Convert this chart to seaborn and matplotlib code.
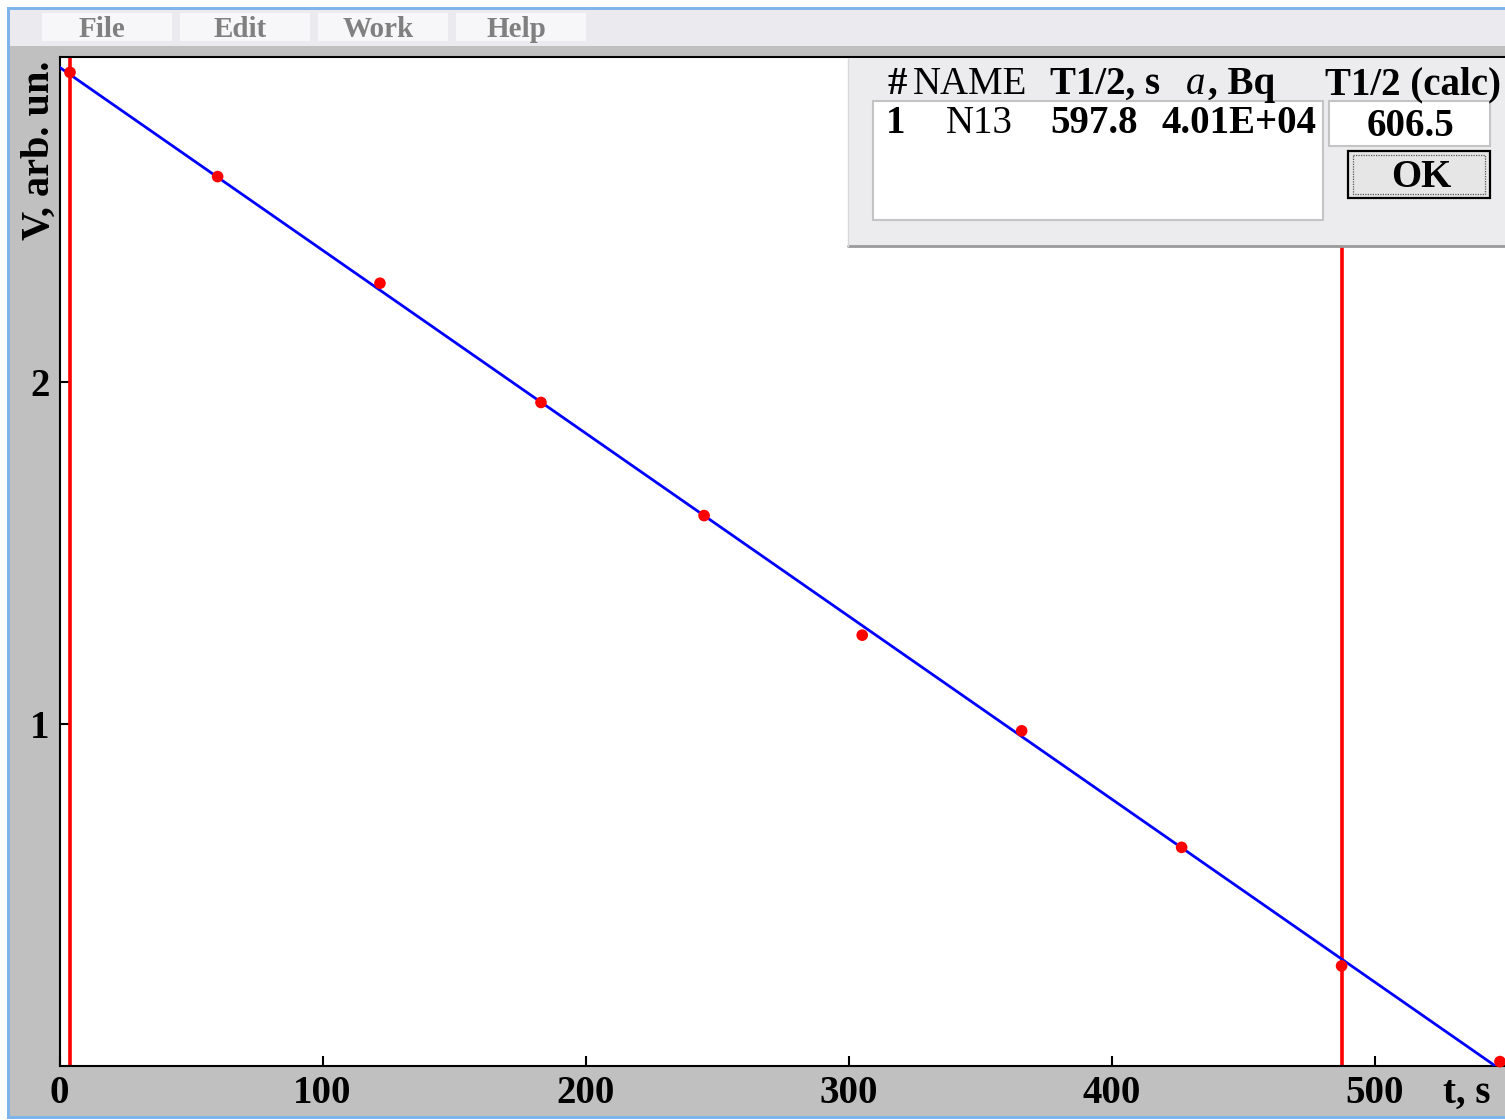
import matplotlib
matplotlib.use("Agg")
import matplotlib.pyplot as plt
from matplotlib.patches import Rectangle
import seaborn as sns
import pandas as pd

# measured decay points
t_s = [4.0, 60.1, 121.8, 183.0, 245.0, 305.1, 365.7, 426.5, 487.3, 547.5]
v_arb = [2.907, 2.602, 2.290, 1.941, 1.610, 1.260, 0.980, 0.639, 0.292, 0.012]

# straight-line fit endpoints
fit_t = [0.0, 545.6]
fit_v = [2.922, 0.0]

# cursor positions
cursor_t = [4.0, 487.3]

x_ticks = [0, 100, 200, 300, 400, 500]
y_ticks = [1, 2]

menu_items = ["File", "Edit", "Work", "Help"]

table_header = ["#", "NAME", "T1/2, s", "a", ", Bq", "T1/2 (calc)"]
table_row = ["1", "N13", "597.8", "4.01E+04"]
calc_value = "606.5"

W, H = 1505, 1120
sns.set_theme(style="white")
plt.rcParams["font.family"] = ["Liberation Serif", "DejaVu Serif"]

fig = plt.figure(figsize=(W / 100, H / 100), dpi=100, facecolor="#c0c0c0")

# plot area in pixel terms
x0_px, x1_px = 59.5, 1505.0
y_top_px, y_bot_px = 57.3, 1065.7
px_per_s = 2.631
px_per_v = 341.7

ax = fig.add_axes([x0_px / W, 1 - y_bot_px / H, (x1_px - x0_px) / W, (y_bot_px - y_top_px) / H])
ax.set_facecolor("white")
ax.set_xlim(0, (x1_px - x0_px) / px_per_s)
ax.set_ylim(0, (y_bot_px - y_top_px) / px_per_v)

df_pts = pd.DataFrame({"t": t_s, "v": v_arb})
df_fit = pd.DataFrame({"t": fit_t, "v": fit_v})

for ct in cursor_t:
    ax.axvline(ct, color="#ff0000", lw=2.6, zorder=2)
sns.lineplot(data=df_fit, x="t", y="v", ax=ax, color="#0000ff", lw=2.0, zorder=3)
sns.scatterplot(data=df_pts, x="t", y="v", ax=ax, color="#ff0000", s=70,
                edgecolor="none", zorder=4, clip_on=False)

ax.set_xticks(x_ticks)
ax.set_yticks(y_ticks)
ax.set_xticklabels([str(v) for v in x_ticks])
ax.set_yticklabels([str(v) for v in y_ticks])
ax.tick_params(axis="both", direction="in", length=7, width=1.5, color="black",
               labelsize=28, labelcolor="black")
ax.tick_params(axis="x", pad=7, bottom=True)
ax.tick_params(axis="y", pad=7, left=True)
for lab in ax.get_xticklabels() + ax.get_yticklabels():
    lab.set_fontweight("bold")
ax.set_xlabel("")
ax.set_ylabel("")
for side in ["left", "bottom", "top"]:
    ax.spines[side].set_visible(True)
    ax.spines[side].set_color("black")
    ax.spines[side].set_linewidth(1.5)
ax.spines["right"].set_visible(False)
ax.grid(False)

# overlay in pixel coordinates for window chrome and the result panel
ui = fig.add_axes([0, 0, 1, 1], zorder=10)
ui.set_xlim(0, W)
ui.set_ylim(H, 0)
ui.axis("off")
ui.patch.set_alpha(0)


def rect(x0, y0, x1, y1, fc, ec="none", lw=0.0, ls="-"):
    ui.add_patch(Rectangle((x0, y0), x1 - x0, y1 - y0, facecolor=fc,
                           edgecolor=ec, linewidth=lw, linestyle=ls))


# window border
rect(0, 0, W, 7, "white")
rect(0, 0, 7, H, "white")
rect(0, 1119, W, H, "white")
rect(7, 7, W, 10, "#7eb4ea")
rect(7, 7, 10, 1119, "#7eb4ea")
rect(7, 1116, W, 1119, "#7eb4ea")

# menu bar
rect(10, 10, W, 46, "#ebebef")
menu_boxes = [(42, 172), (180, 310), (318, 448), (456, 586)]
for (bx0, bx1), name in zip(menu_boxes, menu_items):
    rect(bx0, 13, bx1, 41, "#f7f7f9")
    ui.text((bx0 + bx1) / 2 - 5, 37, name, ha="center", va="baseline",
            fontsize=21, fontweight="bold", color="#808080")

# x axis title
ui.text(1443, 1103, "t, s", ha="left", va="baseline", fontsize=28,
        fontweight="bold", color="black")
# y axis title
ui.text(49, 240, "V, arb. un.", rotation=90, rotation_mode="anchor",
        ha="left", va="baseline", fontsize=29, fontweight="bold", color="black")

# result panel
rect(848, 58, W, 246, "#ececee")
ui.plot([848, W], [246, 246], color="#9a9a9a", lw=2.0)
ui.plot([848, 848], [58, 246], color="#d8d8d8", lw=1.0)
rect(873, 101, 1323, 220, "white", ec="#c4c4c4", lw=1.5)
rect(1329, 101, 1490, 146, "white", ec="#c4c4c4", lw=1.5)
rect(1348, 151, 1490, 198, "#e6e6e6", ec="black", lw=1.6)
rect(1353, 155, 1485, 194, "none", ec="#555555", lw=0.9, ls=(0, (1, 1)))

fs = 28
hdr_x = [888, 913, 1050, 1186, 1208, 1325]
hdr_style = [("bold", "normal"), ("normal", "normal"), ("bold", "normal"),
             ("normal", "italic"), ("bold", "normal"), ("bold", "normal")]
for x, txt, (wt, st) in zip(hdr_x, table_header, hdr_style):
    ui.text(x, 94, txt, ha="left", va="baseline", fontsize=fs,
            fontweight=wt, fontstyle=st, color="black")

row_x = [886, 946, 1050, 1162]
row_wt = ["bold", "normal", "bold", "bold"]
for x, txt, wt in zip(row_x, table_row, row_wt):
    ui.text(x, 133, txt, ha="left", va="baseline", fontsize=fs,
            fontweight=wt, color="black")

ui.text(1410, 136, calc_value, ha="center", va="baseline", fontsize=fs,
        fontweight="bold", color="black")
ui.text(1421, 187, "OK", ha="center", va="baseline", fontsize=fs,
        fontweight="bold", color="black")

fig.savefig("out.png", dpi=100, facecolor=fig.get_facecolor())
